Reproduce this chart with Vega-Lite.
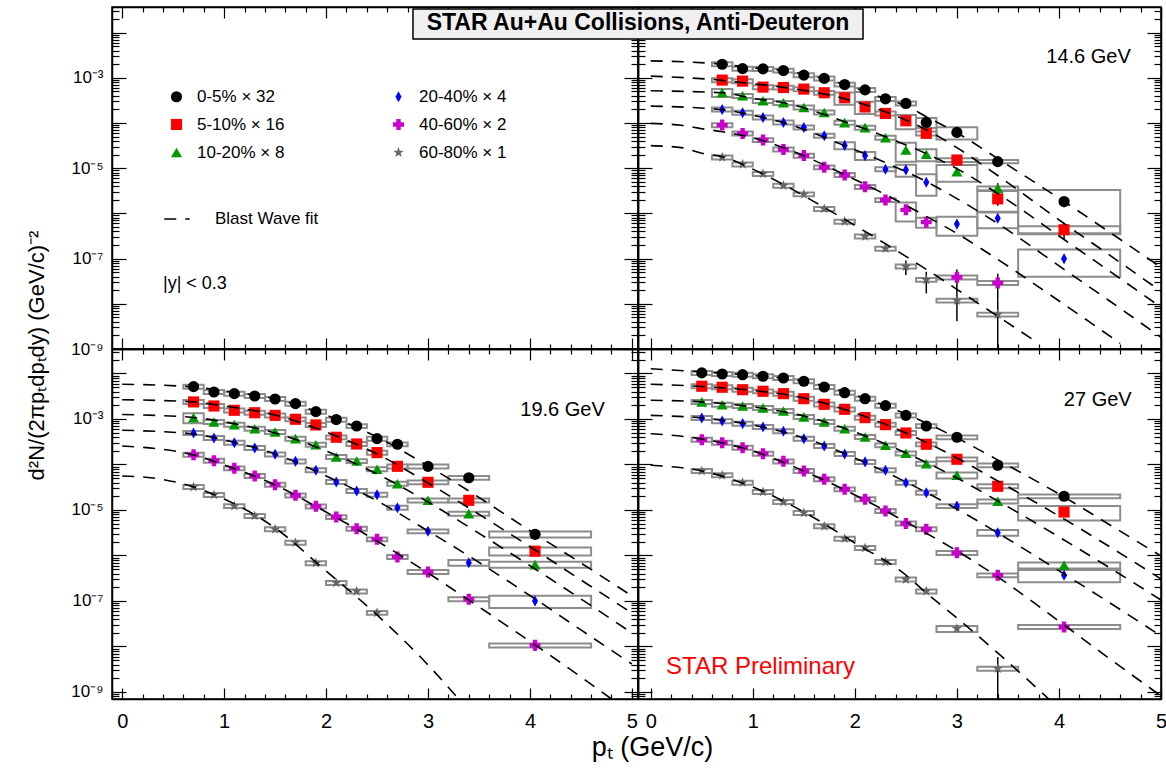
{
"$schema": "https://vega.github.io/schema/vega-lite/v6.json",
"padding": {"left": 24, "top": 5, "right": 3, "bottom": 3},
"background": "white",
"datasets": {
"bins": [{"x":0.5,"x1":0.4,"x2":0.6},{"x":0.7,"x1":0.6,"x2":0.8},{"x":0.9,"x1":0.8,"x2":1.0},{"x":1.1,"x1":1.0,"x2":1.2},{"x":1.3,"x1":1.2,"x2":1.4},{"x":1.5,"x1":1.4,"x2":1.6},{"x":1.7,"x1":1.6,"x2":1.8},{"x":1.9,"x1":1.8,"x2":2.0},{"x":2.1,"x1":2.0,"x2":2.2},{"x":2.3,"x1":2.2,"x2":2.4},{"x":2.5,"x1":2.4,"x2":2.6},{"x":2.7,"x1":2.6,"x2":2.8},{"x":3.0,"x1":2.8,"x2":3.2},{"x":3.4,"x1":3.2,"x2":3.6},{"x":4.05,"x1":3.6,"x2":4.6}],
"pts": [
{"E":"14.6","c":"0-5%","x":0.7,"y":2.0e-3},{"E":"14.6","c":"0-5%","x":0.9,"y":1.6e-3},{"E":"14.6","c":"0-5%","x":1.1,"y":1.58e-3},{"E":"14.6","c":"0-5%","x":1.3,"y":1.45e-3},{"E":"14.6","c":"0-5%","x":1.5,"y":1.15e-3},{"E":"14.6","c":"0-5%","x":1.7,"y":9.7e-4},{"E":"14.6","c":"0-5%","x":1.9,"y":7.1e-4},{"E":"14.6","c":"0-5%","x":2.1,"y":5.4e-4},{"E":"14.6","c":"0-5%","x":2.3,"y":3.43e-4},{"E":"14.6","c":"0-5%","x":2.5,"y":2.71e-4},{"E":"14.6","c":"0-5%","x":2.7,"y":1.03e-4,"s":0.25},{"E":"14.6","c":"0-5%","x":3.0,"y":6.2e-5,"s":0.3},{"E":"14.6","c":"0-5%","x":3.4,"y":1.4e-5,"s":0.08},{"E":"14.6","c":"0-5%","x":4.05,"y":1.83e-6,"s":0.8,"e":0.25},
{"E":"14.6","c":"5-10%","x":0.7,"y":8.9e-4},{"E":"14.6","c":"5-10%","x":0.9,"y":8.45e-4},{"E":"14.6","c":"5-10%","x":1.1,"y":6.23e-4},{"E":"14.6","c":"5-10%","x":1.3,"y":6.1e-4},{"E":"14.6","c":"5-10%","x":1.5,"y":5.63e-4},{"E":"14.6","c":"5-10%","x":1.7,"y":4.67e-4},{"E":"14.6","c":"5-10%","x":1.9,"y":3.62e-4,"s":0.3},{"E":"14.6","c":"5-10%","x":2.1,"y":2.26e-4,"s":0.3},{"E":"14.6","c":"5-10%","x":2.3,"y":1.63e-4},{"E":"14.6","c":"5-10%","x":2.5,"y":1.12e-4,"s":0.35},{"E":"14.6","c":"5-10%","x":2.7,"y":5.9e-5},{"E":"14.6","c":"5-10%","x":3.0,"y":1.52e-5},{"E":"14.6","c":"5-10%","x":3.4,"y":2.1e-6,"s":0.5,"e":0.3},{"E":"14.6","c":"5-10%","x":4.05,"y":4.35e-7,"s":0.2,"e":0.4},
{"E":"14.6","c":"10-20%","x":0.7,"y":4.73e-4,"s":0.2},{"E":"14.6","c":"10-20%","x":0.9,"y":4.0e-4},{"E":"14.6","c":"10-20%","x":1.1,"y":3.1e-4},{"E":"14.6","c":"10-20%","x":1.3,"y":2.8e-4},{"E":"14.6","c":"10-20%","x":1.5,"y":2.21e-4},{"E":"14.6","c":"10-20%","x":1.7,"y":1.71e-4},{"E":"14.6","c":"10-20%","x":1.9,"y":1.02e-4},{"E":"14.6","c":"10-20%","x":2.1,"y":7.9e-5},{"E":"14.6","c":"10-20%","x":2.3,"y":4.73e-5},{"E":"14.6","c":"10-20%","x":2.5,"y":2.53e-5,"s":0.45},{"E":"14.6","c":"10-20%","x":2.7,"y":2.03e-5,"s":0.3},{"E":"14.6","c":"10-20%","x":3.0,"y":8.4e-6,"s":0.4},{"E":"14.6","c":"10-20%","x":3.4,"y":3.6e-6,"e":0.3},
{"E":"14.6","c":"20-40%","x":0.7,"y":2.0e-4},{"E":"14.6","c":"20-40%","x":0.9,"y":1.69e-4},{"E":"14.6","c":"20-40%","x":1.1,"y":1.33e-4},{"E":"14.6","c":"20-40%","x":1.3,"y":1.03e-4},{"E":"14.6","c":"20-40%","x":1.5,"y":8.0e-5},{"E":"14.6","c":"20-40%","x":1.7,"y":5.25e-5},{"E":"14.6","c":"20-40%","x":1.9,"y":3.2e-5,"s":0.18},{"E":"14.6","c":"20-40%","x":2.1,"y":1.9e-5,"s":0.2},{"E":"14.6","c":"20-40%","x":2.3,"y":9.5e-6},{"E":"14.6","c":"20-40%","x":2.5,"y":9.2e-6,"s":0.3},{"E":"14.6","c":"20-40%","x":2.7,"y":4.9e-6,"s":0.5},{"E":"14.6","c":"20-40%","x":3.0,"y":5.8e-7,"s":0.45},{"E":"14.6","c":"20-40%","x":3.4,"y":7.8e-7,"s":0.4},{"E":"14.6","c":"20-40%","x":4.05,"y":9.95e-8,"s":0.6,"e":0.2},
{"E":"14.6","c":"40-60%","x":0.7,"y":9.0e-5},{"E":"14.6","c":"40-60%","x":0.9,"y":5.9e-5},{"E":"14.6","c":"40-60%","x":1.1,"y":4.2e-5},{"E":"14.6","c":"40-60%","x":1.3,"y":2.6e-5},{"E":"14.6","c":"40-60%","x":1.5,"y":1.9e-5},{"E":"14.6","c":"40-60%","x":1.7,"y":1.05e-5},{"E":"14.6","c":"40-60%","x":1.9,"y":7.1e-6},{"E":"14.6","c":"40-60%","x":2.1,"y":3.87e-6},{"E":"14.6","c":"40-60%","x":2.3,"y":1.98e-6},{"E":"14.6","c":"40-60%","x":2.5,"y":1.2e-6,"s":0.45},{"E":"14.6","c":"40-60%","x":2.7,"y":6.4e-7,"s":0.25},{"E":"14.6","c":"40-60%","x":3.0,"y":3.85e-8,"e":0.5},{"E":"14.6","c":"40-60%","x":3.4,"y":2.9e-8,"e":0.6},
{"E":"14.6","c":"60-80%","x":0.7,"y":1.74e-5},{"E":"14.6","c":"60-80%","x":0.9,"y":1.22e-5},{"E":"14.6","c":"60-80%","x":1.1,"y":7.5e-6},{"E":"14.6","c":"60-80%","x":1.3,"y":4.13e-6},{"E":"14.6","c":"60-80%","x":1.5,"y":2.65e-6},{"E":"14.6","c":"60-80%","x":1.7,"y":1.26e-6},{"E":"14.6","c":"60-80%","x":1.9,"y":6.6e-7},{"E":"14.6","c":"60-80%","x":2.1,"y":3.09e-7},{"E":"14.6","c":"60-80%","x":2.3,"y":1.66e-7},{"E":"14.6","c":"60-80%","x":2.5,"y":6.7e-8,"e":0.35},{"E":"14.6","c":"60-80%","x":2.7,"y":3.4e-8,"e":0.5},{"E":"14.6","c":"60-80%","x":3.0,"y":1.18e-8,"e":0.65},{"E":"14.6","c":"60-80%","x":3.4,"y":5.8e-9,"e":0.98},
{"E":"19.6","c":"0-5%","x":0.7,"y":5.13e-3},{"E":"19.6","c":"0-5%","x":0.9,"y":3.92e-3},{"E":"19.6","c":"0-5%","x":1.1,"y":3.6e-3},{"E":"19.6","c":"0-5%","x":1.3,"y":3.2e-3},{"E":"19.6","c":"0-5%","x":1.5,"y":2.75e-3},{"E":"19.6","c":"0-5%","x":1.7,"y":2.17e-3},{"E":"19.6","c":"0-5%","x":1.9,"y":1.45e-3},{"E":"19.6","c":"0-5%","x":2.1,"y":9.7e-4},{"E":"19.6","c":"0-5%","x":2.3,"y":7.0e-4},{"E":"19.6","c":"0-5%","x":2.5,"y":3.69e-4},{"E":"19.6","c":"0-5%","x":2.7,"y":2.78e-4},{"E":"19.6","c":"0-5%","x":3.0,"y":9.1e-5},{"E":"19.6","c":"0-5%","x":3.4,"y":5.1e-5},{"E":"19.6","c":"0-5%","x":4.05,"y":2.92e-6,"s":0.15},
{"E":"19.6","c":"5-10%","x":0.7,"y":2.37e-3},{"E":"19.6","c":"5-10%","x":0.9,"y":1.93e-3},{"E":"19.6","c":"5-10%","x":1.1,"y":1.55e-3},{"E":"19.6","c":"5-10%","x":1.3,"y":1.37e-3},{"E":"19.6","c":"5-10%","x":1.5,"y":1.2e-3},{"E":"19.6","c":"5-10%","x":1.7,"y":9.85e-4},{"E":"19.6","c":"5-10%","x":1.9,"y":7.4e-4},{"E":"19.6","c":"5-10%","x":2.1,"y":3.96e-4},{"E":"19.6","c":"5-10%","x":2.3,"y":2.82e-4},{"E":"19.6","c":"5-10%","x":2.5,"y":1.82e-4},{"E":"19.6","c":"5-10%","x":2.7,"y":9.1e-5},{"E":"19.6","c":"5-10%","x":3.0,"y":4.06e-5},{"E":"19.6","c":"5-10%","x":3.4,"y":1.63e-5},{"E":"19.6","c":"5-10%","x":4.05,"y":1.24e-6,"s":0.2},
{"E":"19.6","c":"10-20%","x":0.7,"y":1.07e-3,"s":0.25},{"E":"19.6","c":"10-20%","x":0.9,"y":8.6e-4},{"E":"19.6","c":"10-20%","x":1.1,"y":7.5e-4},{"E":"19.6","c":"10-20%","x":1.3,"y":6.1e-4},{"E":"19.6","c":"10-20%","x":1.5,"y":5.18e-4},{"E":"19.6","c":"10-20%","x":1.7,"y":3.69e-4},{"E":"19.6","c":"10-20%","x":1.9,"y":2.72e-4},{"E":"19.6","c":"10-20%","x":2.1,"y":1.46e-4},{"E":"19.6","c":"10-20%","x":2.3,"y":1.19e-4},{"E":"19.6","c":"10-20%","x":2.5,"y":7.85e-5},{"E":"19.6","c":"10-20%","x":2.7,"y":3.78e-5},{"E":"19.6","c":"10-20%","x":3.0,"y":1.63e-5},{"E":"19.6","c":"10-20%","x":3.4,"y":8.3e-6},{"E":"19.6","c":"10-20%","x":4.05,"y":6.3e-7,"s":0.15},
{"E":"19.6","c":"20-40%","x":0.7,"y":4.92e-4},{"E":"19.6","c":"20-40%","x":0.9,"y":3.82e-4},{"E":"19.6","c":"20-40%","x":1.1,"y":3.01e-4},{"E":"19.6","c":"20-40%","x":1.3,"y":2.31e-4},{"E":"19.6","c":"20-40%","x":1.5,"y":1.67e-4},{"E":"19.6","c":"20-40%","x":1.7,"y":1.17e-4},{"E":"19.6","c":"20-40%","x":1.9,"y":7.5e-5},{"E":"19.6","c":"20-40%","x":2.1,"y":4.12e-5},{"E":"19.6","c":"20-40%","x":2.3,"y":2.62e-5},{"E":"19.6","c":"20-40%","x":2.5,"y":2.17e-5},{"E":"19.6","c":"20-40%","x":2.7,"y":1.12e-5},{"E":"19.6","c":"20-40%","x":3.0,"y":3.4e-6},{"E":"19.6","c":"20-40%","x":3.4,"y":6.95e-7,"s":0.15},{"E":"19.6","c":"20-40%","x":4.05,"y":1.0e-7,"s":0.3,"e":0.2},
{"E":"19.6","c":"40-60%","x":0.7,"y":1.64e-4},{"E":"19.6","c":"40-60%","x":0.9,"y":1.21e-4},{"E":"19.6","c":"40-60%","x":1.1,"y":8.25e-5},{"E":"19.6","c":"40-60%","x":1.3,"y":5.58e-5},{"E":"19.6","c":"40-60%","x":1.5,"y":3.6e-5},{"E":"19.6","c":"40-60%","x":1.7,"y":2.1e-5},{"E":"19.6","c":"40-60%","x":1.9,"y":1.2e-5},{"E":"19.6","c":"40-60%","x":2.1,"y":7.0e-6},{"E":"19.6","c":"40-60%","x":2.3,"y":3.88e-6},{"E":"19.6","c":"40-60%","x":2.5,"y":2.27e-6},{"E":"19.6","c":"40-60%","x":2.7,"y":9.3e-7},{"E":"19.6","c":"40-60%","x":3.0,"y":4.34e-7},{"E":"19.6","c":"40-60%","x":3.4,"y":1.09e-7},{"E":"19.6","c":"40-60%","x":4.05,"y":1.06e-8,"e":0.25},
{"E":"19.6","c":"60-80%","x":0.7,"y":3.2e-5},{"E":"19.6","c":"60-80%","x":0.9,"y":2.14e-5},{"E":"19.6","c":"60-80%","x":1.1,"y":1.22e-5},{"E":"19.6","c":"60-80%","x":1.3,"y":7.4e-6},{"E":"19.6","c":"60-80%","x":1.5,"y":3.77e-6},{"E":"19.6","c":"60-80%","x":1.7,"y":1.91e-6},{"E":"19.6","c":"60-80%","x":1.9,"y":6.8e-7},{"E":"19.6","c":"60-80%","x":2.1,"y":2.49e-7},{"E":"19.6","c":"60-80%","x":2.3,"y":1.63e-7},{"E":"19.6","c":"60-80%","x":2.5,"y":5.5e-8},
{"E":"27","c":"0-5%","x":0.5,"y":1.03e-2},{"E":"27","c":"0-5%","x":0.7,"y":9.75e-3},{"E":"27","c":"0-5%","x":0.9,"y":9.4e-3},{"E":"27","c":"0-5%","x":1.1,"y":8.7e-3},{"E":"27","c":"0-5%","x":1.3,"y":7.96e-3},{"E":"27","c":"0-5%","x":1.5,"y":6.75e-3},{"E":"27","c":"0-5%","x":1.7,"y":5.05e-3},{"E":"27","c":"0-5%","x":1.9,"y":3.78e-3},{"E":"27","c":"0-5%","x":2.1,"y":2.79e-3},{"E":"27","c":"0-5%","x":2.3,"y":1.96e-3},{"E":"27","c":"0-5%","x":2.5,"y":1.2e-3},{"E":"27","c":"0-5%","x":2.7,"y":7.0e-4},{"E":"27","c":"0-5%","x":3.0,"y":3.96e-4},{"E":"27","c":"0-5%","x":3.4,"y":9.6e-5},{"E":"27","c":"0-5%","x":4.05,"y":2.0e-5},
{"E":"27","c":"5-10%","x":0.5,"y":5.24e-3},{"E":"27","c":"5-10%","x":0.7,"y":4.98e-3},{"E":"27","c":"5-10%","x":0.9,"y":4.4e-3},{"E":"27","c":"5-10%","x":1.1,"y":4.06e-3},{"E":"27","c":"5-10%","x":1.3,"y":3.6e-3},{"E":"27","c":"5-10%","x":1.5,"y":2.79e-3},{"E":"27","c":"5-10%","x":1.7,"y":2.1e-3},{"E":"27","c":"5-10%","x":1.9,"y":1.63e-3},{"E":"27","c":"5-10%","x":2.1,"y":1.07e-3},{"E":"27","c":"5-10%","x":2.3,"y":7.5e-4},{"E":"27","c":"5-10%","x":2.5,"y":4.92e-4},{"E":"27","c":"5-10%","x":2.7,"y":2.78e-4},{"E":"27","c":"5-10%","x":3.0,"y":1.3e-4},{"E":"27","c":"5-10%","x":3.4,"y":3.32e-5},{"E":"27","c":"5-10%","x":4.05,"y":9.0e-6,"s":0.35},
{"E":"27","c":"10-20%","x":0.5,"y":2.37e-3},{"E":"27","c":"10-20%","x":0.7,"y":2.06e-3},{"E":"27","c":"10-20%","x":0.9,"y":1.93e-3},{"E":"27","c":"10-20%","x":1.1,"y":1.75e-3},{"E":"27","c":"10-20%","x":1.3,"y":1.5e-3},{"E":"27","c":"10-20%","x":1.5,"y":1.11e-3},{"E":"27","c":"10-20%","x":1.7,"y":8.6e-4},{"E":"27","c":"10-20%","x":1.9,"y":6.1e-4},{"E":"27","c":"10-20%","x":2.1,"y":4.02e-4},{"E":"27","c":"10-20%","x":2.3,"y":2.64e-4},{"E":"27","c":"10-20%","x":2.5,"y":1.76e-4},{"E":"27","c":"10-20%","x":2.7,"y":1.04e-4},{"E":"27","c":"10-20%","x":3.0,"y":5.8e-5,"s":0.15},{"E":"27","c":"10-20%","x":3.4,"y":1.55e-5},{"E":"27","c":"10-20%","x":4.05,"y":6.1e-7,"s":0.15},
{"E":"27","c":"20-40%","x":0.5,"y":1.05e-3},{"E":"27","c":"20-40%","x":0.7,"y":9.0e-4},{"E":"27","c":"20-40%","x":0.9,"y":7.9e-4},{"E":"27","c":"20-40%","x":1.1,"y":6.67e-4},{"E":"27","c":"20-40%","x":1.3,"y":5.37e-4},{"E":"27","c":"20-40%","x":1.5,"y":3.69e-4},{"E":"27","c":"20-40%","x":1.7,"y":2.55e-4},{"E":"27","c":"20-40%","x":1.9,"y":1.7e-4},{"E":"27","c":"20-40%","x":2.1,"y":1.14e-4},{"E":"27","c":"20-40%","x":2.3,"y":7.46e-5},{"E":"27","c":"20-40%","x":2.5,"y":3.98e-5},{"E":"27","c":"20-40%","x":2.7,"y":2.4e-5},{"E":"27","c":"20-40%","x":3.0,"y":1.22e-5},{"E":"27","c":"20-40%","x":3.4,"y":3.17e-6,"s":0.15},{"E":"27","c":"20-40%","x":4.05,"y":3.67e-7,"s":0.3},
{"E":"27","c":"40-60%","x":0.5,"y":3.51e-4},{"E":"27","c":"40-60%","x":0.7,"y":3.01e-4},{"E":"27","c":"40-60%","x":0.9,"y":2.34e-4},{"E":"27","c":"40-60%","x":1.1,"y":1.73e-4},{"E":"27","c":"40-60%","x":1.3,"y":1.17e-4},{"E":"27","c":"40-60%","x":1.5,"y":7.2e-5},{"E":"27","c":"40-60%","x":1.7,"y":4.73e-5},{"E":"27","c":"40-60%","x":1.9,"y":2.85e-5},{"E":"27","c":"40-60%","x":2.1,"y":1.72e-5},{"E":"27","c":"40-60%","x":2.3,"y":9.5e-6},{"E":"27","c":"40-60%","x":2.5,"y":5.05e-6},{"E":"27","c":"40-60%","x":2.7,"y":3.77e-6},{"E":"27","c":"40-60%","x":3.0,"y":1.14e-6},{"E":"27","c":"40-60%","x":3.4,"y":3.67e-7},{"E":"27","c":"40-60%","x":4.05,"y":2.68e-8},
{"E":"27","c":"60-80%","x":0.5,"y":7.2e-5},{"E":"27","c":"60-80%","x":0.7,"y":5.8e-5},{"E":"27","c":"60-80%","x":0.9,"y":3.98e-5},{"E":"27","c":"60-80%","x":1.1,"y":2.49e-5},{"E":"27","c":"60-80%","x":1.3,"y":1.5e-5},{"E":"27","c":"60-80%","x":1.5,"y":8.6e-6},{"E":"27","c":"60-80%","x":1.7,"y":4.39e-6},{"E":"27","c":"60-80%","x":1.9,"y":2.34e-6},{"E":"27","c":"60-80%","x":2.1,"y":1.46e-6},{"E":"27","c":"60-80%","x":2.3,"y":7.2e-7},{"E":"27","c":"60-80%","x":2.5,"y":2.97e-7},{"E":"27","c":"60-80%","x":2.7,"y":1.63e-7},{"E":"27","c":"60-80%","x":3.0,"y":2.46e-8,"s":0.15},{"E":"27","c":"60-80%","x":3.4,"y":3.25e-9,"e":0.8}
],
"fits": [
{"E":"14.6","c":"0-5%","x":0,"y":2.37e-3},{"E":"14.6","c":"0-5%","x":0.7,"y":2.0e-3},{"E":"14.6","c":"0-5%","x":1.0,"y":1.66e-3},{"E":"14.6","c":"0-5%","x":1.3,"y":1.45e-3},{"E":"14.6","c":"0-5%","x":1.6,"y":1.08e-3},{"E":"14.6","c":"0-5%","x":1.9,"y":7.1e-4},{"E":"14.6","c":"0-5%","x":2.3,"y":3.44e-4},{"E":"14.6","c":"0-5%","x":2.5,"y":2.41e-4},{"E":"14.6","c":"0-5%","x":2.7,"y":1.38e-4},{"E":"14.6","c":"0-5%","x":3.0,"y":6.1e-5},{"E":"14.6","c":"0-5%","x":3.4,"y":1.63e-5},{"E":"14.6","c":"0-5%","x":4.05,"y":1.83e-6},{"E":"14.6","c":"0-5%","x":4.5,"y":3.79e-7},{"E":"14.6","c":"0-5%","x":5.0,"y":6.4e-8},
{"E":"14.6","c":"5-10%","x":0,"y":1.09e-3},{"E":"14.6","c":"5-10%","x":0.7,"y":8.8e-4},{"E":"14.6","c":"5-10%","x":1.0,"y":7.38e-4},{"E":"14.6","c":"5-10%","x":1.3,"y":6.17e-4},{"E":"14.6","c":"5-10%","x":1.9,"y":3.44e-4},{"E":"14.6","c":"5-10%","x":2.3,"y":1.77e-4},{"E":"14.6","c":"5-10%","x":2.7,"y":7.1e-5},{"E":"14.6","c":"5-10%","x":3.0,"y":2.85e-5},{"E":"14.6","c":"5-10%","x":3.4,"y":6.9e-6},{"E":"14.6","c":"5-10%","x":4.05,"y":5.98e-7},{"E":"14.6","c":"5-10%","x":4.5,"y":1.18e-7},{"E":"14.6","c":"5-10%","x":5.0,"y":1.89e-8},
{"E":"14.6","c":"10-20%","x":0,"y":5.16e-4},{"E":"14.6","c":"10-20%","x":0.7,"y":4.67e-4},{"E":"14.6","c":"10-20%","x":1.0,"y":3.52e-4},{"E":"14.6","c":"10-20%","x":1.3,"y":2.81e-4},{"E":"14.6","c":"10-20%","x":1.9,"y":1.07e-4},{"E":"14.6","c":"10-20%","x":2.3,"y":4.99e-5},{"E":"14.6","c":"10-20%","x":2.7,"y":2.1e-5},{"E":"14.6","c":"10-20%","x":3.0,"y":9.8e-6},{"E":"14.6","c":"10-20%","x":3.4,"y":2.75e-6},{"E":"14.6","c":"10-20%","x":4.05,"y":2.65e-7},{"E":"14.6","c":"10-20%","x":4.5,"y":5.2e-8},{"E":"14.6","c":"10-20%","x":5.0,"y":8.4e-9},
{"E":"14.6","c":"20-40%","x":0,"y":2.37e-4},{"E":"14.6","c":"20-40%","x":0.7,"y":1.97e-4},{"E":"14.6","c":"20-40%","x":1.0,"y":1.49e-4},{"E":"14.6","c":"20-40%","x":1.3,"y":1.02e-4},{"E":"14.6","c":"20-40%","x":1.9,"y":3.16e-5},{"E":"14.6","c":"20-40%","x":2.3,"y":1.33e-5},{"E":"14.6","c":"20-40%","x":2.7,"y":5.06e-6},{"E":"14.6","c":"20-40%","x":3.0,"y":2.13e-6},{"E":"14.6","c":"20-40%","x":3.4,"y":5.98e-7},{"E":"14.6","c":"20-40%","x":4.05,"y":5.78e-8},{"E":"14.6","c":"20-40%","x":4.5,"y":1.14e-8},{"E":"14.6","c":"20-40%","x":5.0,"y":1.82e-9},
{"E":"14.6","c":"40-60%","x":0,"y":9.8e-5},{"E":"14.6","c":"40-60%","x":0.3,"y":8.93e-5},{"E":"14.6","c":"40-60%","x":0.5,"y":7.48e-5},{"E":"14.6","c":"40-60%","x":0.7,"y":6.43e-5},{"E":"14.6","c":"40-60%","x":1.0,"y":4.73e-5},{"E":"14.6","c":"40-60%","x":1.3,"y":2.85e-5},{"E":"14.6","c":"40-60%","x":1.9,"y":7.2e-6},{"E":"14.6","c":"40-60%","x":2.3,"y":2.61e-6},{"E":"14.6","c":"40-60%","x":2.7,"y":8.6e-7},{"E":"14.6","c":"40-60%","x":3.0,"y":3.6e-7},{"E":"14.6","c":"40-60%","x":3.4,"y":9.6e-8},{"E":"14.6","c":"40-60%","x":4.05,"y":9.7e-9},{"E":"14.6","c":"40-60%","x":4.6,"y":1.34e-9},
{"E":"14.6","c":"60-80%","x":0,"y":3.16e-5},{"E":"14.6","c":"60-80%","x":0.3,"y":2.85e-5},{"E":"14.6","c":"60-80%","x":0.5,"y":2.15e-5},{"E":"14.6","c":"60-80%","x":0.7,"y":1.8e-5},{"E":"14.6","c":"60-80%","x":1.0,"y":9.55e-6},{"E":"14.6","c":"60-80%","x":1.3,"y":4.35e-6},{"E":"14.6","c":"60-80%","x":1.7,"y":1.35e-6},{"E":"14.6","c":"60-80%","x":2.1,"y":3.98e-7},{"E":"14.6","c":"60-80%","x":2.5,"y":1.12e-7},{"E":"14.6","c":"60-80%","x":2.7,"y":5.78e-8},{"E":"14.6","c":"60-80%","x":3.0,"y":2.09e-8},{"E":"14.6","c":"60-80%","x":3.4,"y":5.3e-9},{"E":"14.6","c":"60-80%","x":3.8,"y":1.34e-9},
{"E":"19.6","c":"0-5%","x":0,"y":5.8e-3},{"E":"19.6","c":"0-5%","x":0.7,"y":5.05e-3},{"E":"19.6","c":"0-5%","x":1.0,"y":4.12e-3},{"E":"19.6","c":"0-5%","x":1.5,"y":2.75e-3},{"E":"19.6","c":"0-5%","x":2.0,"y":1.22e-3},{"E":"19.6","c":"0-5%","x":2.5,"y":4.02e-4},{"E":"19.6","c":"0-5%","x":3.0,"y":9.27e-5},{"E":"19.6","c":"0-5%","x":3.4,"y":2.62e-5},{"E":"19.6","c":"0-5%","x":4.05,"y":2.97e-6},{"E":"19.6","c":"0-5%","x":4.5,"y":6.84e-7},{"E":"19.6","c":"0-5%","x":5.0,"y":1.29e-7},
{"E":"19.6","c":"5-10%","x":0,"y":2.65e-3},{"E":"19.6","c":"5-10%","x":0.7,"y":2.37e-3},{"E":"19.6","c":"5-10%","x":1.0,"y":1.93e-3},{"E":"19.6","c":"5-10%","x":1.5,"y":1.22e-3},{"E":"19.6","c":"5-10%","x":2.0,"y":5.18e-4},{"E":"19.6","c":"5-10%","x":2.5,"y":1.7e-4},{"E":"19.6","c":"5-10%","x":3.0,"y":3.92e-5},{"E":"19.6","c":"5-10%","x":3.4,"y":1.11e-5},{"E":"19.6","c":"5-10%","x":4.05,"y":1.32e-6},{"E":"19.6","c":"5-10%","x":4.5,"y":2.9e-7},{"E":"19.6","c":"5-10%","x":5.0,"y":5.45e-8},
{"E":"19.6","c":"10-20%","x":0,"y":1.25e-3},{"E":"19.6","c":"10-20%","x":0.7,"y":1.08e-3},{"E":"19.6","c":"10-20%","x":1.0,"y":8.6e-4},{"E":"19.6","c":"10-20%","x":1.5,"y":4.92e-4},{"E":"19.6","c":"10-20%","x":2.0,"y":1.98e-4},{"E":"19.6","c":"10-20%","x":2.5,"y":6.18e-5},{"E":"19.6","c":"10-20%","x":3.0,"y":1.5e-5},{"E":"19.6","c":"10-20%","x":3.4,"y":4.23e-6},{"E":"19.6","c":"10-20%","x":4.05,"y":5.05e-7},{"E":"19.6","c":"10-20%","x":4.5,"y":1.11e-7},{"E":"19.6","c":"10-20%","x":5.0,"y":1.98e-8},
{"E":"19.6","c":"20-40%","x":0,"y":5.65e-4},{"E":"19.6","c":"20-40%","x":0.7,"y":4.68e-4},{"E":"19.6","c":"20-40%","x":1.0,"y":3.45e-4},{"E":"19.6","c":"20-40%","x":1.5,"y":1.7e-4},{"E":"19.6","c":"20-40%","x":2.0,"y":5.58e-5},{"E":"19.6","c":"20-40%","x":2.5,"y":1.58e-5},{"E":"19.6","c":"20-40%","x":3.0,"y":3.45e-6},{"E":"19.6","c":"20-40%","x":3.4,"y":9.75e-7},{"E":"19.6","c":"20-40%","x":4.05,"y":1.11e-7},{"E":"19.6","c":"20-40%","x":4.5,"y":2.31e-8},{"E":"19.6","c":"20-40%","x":5.0,"y":4.12e-9},
{"E":"19.6","c":"40-60%","x":0,"y":2.55e-4},{"E":"19.6","c":"40-60%","x":0.7,"y":1.62e-4},{"E":"19.6","c":"40-60%","x":1.0,"y":9.75e-5},{"E":"19.6","c":"40-60%","x":1.5,"y":3.54e-5},{"E":"19.6","c":"40-60%","x":2.0,"y":9.0e-6},{"E":"19.6","c":"40-60%","x":2.5,"y":2.08e-6},{"E":"19.6","c":"40-60%","x":3.0,"y":4.12e-7},{"E":"19.6","c":"40-60%","x":3.4,"y":1.05e-7},{"E":"19.6","c":"40-60%","x":4.05,"y":1.08e-8},{"E":"19.6","c":"40-60%","x":4.5,"y":2.14e-9},{"E":"19.6","c":"40-60%","x":4.8,"y":7.0e-10},
{"E":"19.6","c":"60-80%","x":0,"y":5.58e-5},{"E":"19.6","c":"60-80%","x":0.3,"y":5.05e-5},{"E":"19.6","c":"60-80%","x":0.7,"y":3.2e-5},{"E":"19.6","c":"60-80%","x":1.0,"y":1.75e-5},{"E":"19.6","c":"60-80%","x":1.5,"y":4.02e-6},{"E":"19.6","c":"60-80%","x":2.0,"y":4.56e-7},{"E":"19.6","c":"60-80%","x":2.5,"y":4.92e-8},{"E":"19.6","c":"60-80%","x":3.0,"y":3.92e-9},{"E":"19.6","c":"60-80%","x":3.3,"y":7.0e-10},
{"E":"27","c":"0-5%","x":0,"y":1.27e-2},{"E":"27","c":"0-5%","x":0.5,"y":1.08e-2},{"E":"27","c":"0-5%","x":1.0,"y":9.04e-3},{"E":"27","c":"0-5%","x":1.5,"y":6.75e-3},{"E":"27","c":"0-5%","x":2.0,"y":3.37e-3},{"E":"27","c":"0-5%","x":2.5,"y":1.29e-3},{"E":"27","c":"0-5%","x":3.0,"y":3.82e-4},{"E":"27","c":"0-5%","x":3.4,"y":1.26e-4},{"E":"27","c":"0-5%","x":4.05,"y":1.93e-5},{"E":"27","c":"0-5%","x":4.5,"y":4.68e-6},{"E":"27","c":"0-5%","x":5.0,"y":9.75e-7},
{"E":"27","c":"5-10%","x":0,"y":5.8e-3},{"E":"27","c":"5-10%","x":0.5,"y":5.18e-3},{"E":"27","c":"5-10%","x":1.0,"y":4.23e-3},{"E":"27","c":"5-10%","x":1.5,"y":2.9e-3},{"E":"27","c":"5-10%","x":2.0,"y":1.36e-3},{"E":"27","c":"5-10%","x":2.5,"y":4.92e-4},{"E":"27","c":"5-10%","x":3.0,"y":1.39e-4},{"E":"27","c":"5-10%","x":3.4,"y":4.34e-5},{"E":"27","c":"5-10%","x":4.05,"y":6.34e-6},{"E":"27","c":"5-10%","x":4.5,"y":1.54e-6},{"E":"27","c":"5-10%","x":5.0,"y":3.05e-7},
{"E":"27","c":"10-20%","x":0,"y":2.58e-3},{"E":"27","c":"10-20%","x":0.5,"y":2.37e-3},{"E":"27","c":"10-20%","x":1.0,"y":1.84e-3},{"E":"27","c":"10-20%","x":1.5,"y":1.16e-3},{"E":"27","c":"10-20%","x":2.0,"y":5.18e-4},{"E":"27","c":"10-20%","x":2.5,"y":1.79e-4},{"E":"27","c":"10-20%","x":3.0,"y":5.05e-5},{"E":"27","c":"10-20%","x":3.4,"y":1.58e-5},{"E":"27","c":"10-20%","x":4.05,"y":2.19e-6},{"E":"27","c":"10-20%","x":4.5,"y":5.31e-7},{"E":"27","c":"10-20%","x":5.0,"y":1.05e-7},
{"E":"27","c":"20-40%","x":0,"y":1.2e-3},{"E":"27","c":"20-40%","x":0.5,"y":1.05e-3},{"E":"27","c":"20-40%","x":1.0,"y":7.38e-4},{"E":"27","c":"20-40%","x":1.5,"y":3.82e-4},{"E":"27","c":"20-40%","x":2.0,"y":1.39e-4},{"E":"27","c":"20-40%","x":2.5,"y":4.12e-5},{"E":"27","c":"20-40%","x":3.0,"y":1.05e-5},{"E":"27","c":"20-40%","x":3.4,"y":3.13e-6},{"E":"27","c":"20-40%","x":4.05,"y":3.92e-7},{"E":"27","c":"20-40%","x":4.5,"y":9.04e-8},{"E":"27","c":"20-40%","x":5.0,"y":1.7e-8},
{"E":"27","c":"40-60%","x":0,"y":4.75e-4},{"E":"27","c":"40-60%","x":0.5,"y":3.63e-4},{"E":"27","c":"40-60%","x":1.0,"y":1.98e-4},{"E":"27","c":"40-60%","x":1.5,"y":7.2e-5},{"E":"27","c":"40-60%","x":2.0,"y":2.14e-5},{"E":"27","c":"40-60%","x":2.5,"y":5.45e-6},{"E":"27","c":"40-60%","x":3.0,"y":1.26e-6},{"E":"27","c":"40-60%","x":3.4,"y":3.37e-7},{"E":"27","c":"40-60%","x":4.05,"y":2.97e-8},{"E":"27","c":"40-60%","x":4.5,"y":5.31e-9},{"E":"27","c":"40-60%","x":5.0,"y":8.2e-10},
{"E":"27","c":"60-80%","x":0,"y":9.6e-5},{"E":"27","c":"60-80%","x":0.5,"y":7.2e-5},{"E":"27","c":"60-80%","x":1.0,"y":3.2e-5},{"E":"27","c":"60-80%","x":1.5,"y":9.04e-6},{"E":"27","c":"60-80%","x":2.0,"y":1.88e-6},{"E":"27","c":"60-80%","x":2.5,"y":3.72e-7},{"E":"27","c":"60-80%","x":2.7,"y":1.5e-7},{"E":"27","c":"60-80%","x":3.0,"y":4.23e-8},{"E":"27","c":"60-80%","x":3.4,"y":7.2e-9},{"E":"27","c":"60-80%","x":3.9,"y":7.0e-10}
]
},
"columns": 2,
"spacing": 0,
"bounds": "flush",
"resolve": {"scale": {"x": "independent", "y": "independent", "color": "shared", "shape": "shared", "size": "shared", "strokeDash": "shared"}, "axis": {"x": "independent", "y": "independent"}},
"concat": [
{
 "width": 526, "height": 342,
 "resolve": {"axis": {"x": "independent", "y": "independent"}},
 "layer": [
  {"data": {"name": "pts"}, "transform": [{"filter": "datum.E == 'none'"}], "mark": {"type": "point", "opacity": 0},
   "encoding": {
    "x": {"field": "x", "type": "quantitative", "scale": {"domain": [-0.1, 5.06], "nice": false, "zero": false}, "axis": {"orient": "top", "values": [0,1,2,3,4,5], "labels": false, "tickSize": -11, "title": null}},
    "y": {"field": "y", "type": "quantitative", "scale": {"type": "log", "domain": [1.0e-9, 3.69e-2], "nice": false}, "axis": {"orient": "right", "values": [1e-9,1e-8,1e-7,1e-6,1e-5,1e-4,1e-3,1e-2], "labels": false, "tickSize": -14, "title": null}}
   }},
  {"data": {"name": "pts"}, "transform": [{"filter": "datum.E == 'none'"}], "mark": {"type": "point", "opacity": 0},
   "encoding": {
    "x": {"field": "x", "type": "quantitative", "scale": {"domain": [-0.1, 5.06], "nice": false, "zero": false}, "axis": {"orient": "top", "values": [0.2,0.4,0.6,0.8,1.2,1.4,1.6,1.8,2.2,2.4,2.6,2.8,3.2,3.4,3.6,3.8,4.2,4.4,4.6,4.8], "labels": false, "domain": false, "tickSize": -5, "title": null}},
    "y": {"field": "y", "type": "quantitative", "scale": {"type": "log", "domain": [1.0e-9, 3.69e-2], "nice": false}, "axis": {"orient": "right", "values": [2e-9,3e-9,4e-9,5e-9,6e-9,7e-9,8e-9,9e-9,2e-8,3e-8,4e-8,5e-8,6e-8,7e-8,8e-8,9e-8,2e-7,3e-7,4e-7,5e-7,6e-7,7e-7,8e-7,9e-7,2e-6,3e-6,4e-6,5e-6,6e-6,7e-6,8e-6,9e-6,2e-5,3e-5,4e-5,5e-5,6e-5,7e-5,8e-5,9e-5,2e-4,3e-4,4e-4,5e-4,6e-4,7e-4,8e-4,9e-4,2e-3,3e-3,4e-3,5e-3,6e-3,7e-3,8e-3,9e-3,2e-2,3e-2], "labels": false, "domain": false, "tickSize": -7, "title": null}}
   }},
  {"data": {"name": "pts"}, "transform": [{"filter": "datum.E == 'none'"}], "mark": {"type": "point", "opacity": 0},
   "encoding": {
    "x": {"field": "x", "type": "quantitative", "scale": {"domain": [-0.1, 5.06], "nice": false, "zero": false}, "axis": {"orient": "bottom", "values": [0.2,0.4,0.6,0.8,1.2,1.4,1.6,1.8,2.2,2.4,2.6,2.8,3.2,3.4,3.6,3.8,4.2,4.4,4.6,4.8], "labels": false, "domain": false, "tickSize": -5, "title": null}},
    "y": {"field": "y", "type": "quantitative", "scale": {"type": "log", "domain": [1.0e-9, 3.69e-2], "nice": false}, "axis": {"orient": "left", "values": [2e-9,3e-9,4e-9,5e-9,6e-9,7e-9,8e-9,9e-9,2e-8,3e-8,4e-8,5e-8,6e-8,7e-8,8e-8,9e-8,2e-7,3e-7,4e-7,5e-7,6e-7,7e-7,8e-7,9e-7,2e-6,3e-6,4e-6,5e-6,6e-6,7e-6,8e-6,9e-6,2e-5,3e-5,4e-5,5e-5,6e-5,7e-5,8e-5,9e-5,2e-4,3e-4,4e-4,5e-4,6e-4,7e-4,8e-4,9e-4,2e-3,3e-3,4e-3,5e-3,6e-3,7e-3,8e-3,9e-3,2e-2,3e-2], "labels": false, "domain": false, "tickSize": -7, "title": null}}
   }},
  {"data": {"name": "pts"}, "transform": [{"filter": "datum.E == 'none'"}], "mark": {"type": "point", "opacity": 0},
   "encoding": {
    "x": {"field": "x", "type": "quantitative", "scale": {"domain": [-0.1, 5.06], "nice": false, "zero": false}, "axis": {"orient": "bottom", "values": [0,1,2,3,4,5], "labels": false, "tickSize": -11, "title": null}},
    "y": {"field": "y", "type": "quantitative", "scale": {"type": "log", "domain": [1.0e-9, 3.69e-2], "nice": false}, "axis": {"orient": "left", "values": [1e-9,1e-8,1e-7,1e-6,1e-5,1e-4,1e-3,1e-2], "labelExpr": "abs(log(datum.value)/LN10 + 3) < 0.01 ? '10⁻³' : abs(log(datum.value)/LN10 + 5) < 0.01 ? '10⁻⁵' : abs(log(datum.value)/LN10 + 7) < 0.01 ? '10⁻⁷' : abs(log(datum.value)/LN10 + 9) < 0.01 ? '10⁻⁹' : ''", "labelFontSize": 17, "labelPadding": 23, "tickSize": -14, "title": "d²N/(2πpₜdpₜdy) (GeV/c)⁻²", "titleFontSize": 22, "titleX": -76, "titleY": 348, "titleAngle": -90, "titleAlign": "center", "titleBaseline": "middle"}}
   }},
  {"data": {"values": [{"t": "|y| < 0.3"}]}, "mark": {"type": "text", "align": "left", "baseline": "middle", "fontSize": 18},
   "encoding": {"x": {"datum": 0.4, "type": "quantitative", "axis": null}, "y": {"datum": 2.7e-8, "type": "quantitative", "axis": null}, "text": {"field": "t"}}}
 ]
},
{
 "width": 523, "height": 342,
 "resolve": {"axis": {"x": "independent", "y": "independent"}},
 "layer": [
  {"data": {"name": "pts"}, "transform": [{"filter": "datum.E == '14.6'"}, {"lookup": "x", "from": {"data": {"name": "bins"}, "key": "x", "fields": ["x1", "x2"]}}, {"calculate": "datum.y*(1-(datum.s||0.1))", "as": "lo"}, {"calculate": "datum.y*(1+(datum.s||0.1))", "as": "hi"}],
   "mark": {"type": "rect", "filled": false, "color": "#8c8c8c", "strokeWidth": 2},
   "encoding": {
    "x": {"field": "x1", "type": "quantitative", "scale": {"domain": [-0.125, 5.0], "nice": false, "zero": false}, "axis": {"orient": "top", "values": [0,1,2,3,4,5], "labels": false, "tickSize": -11, "title": null}},
    "x2": {"field": "x2"},
    "y": {"field": "lo", "type": "quantitative", "scale": {"type": "log", "domain": [1.0e-9, 3.69e-2], "nice": false}, "axis": {"orient": "right", "values": [1e-9,1e-8,1e-7,1e-6,1e-5,1e-4,1e-3,1e-2], "labels": false, "tickSize": -14, "title": null}},
    "y2": {"field": "hi"}
   }},
  {"data": {"name": "pts"}, "transform": [{"filter": "datum.E == '14.6' && datum.e > 0"}, {"calculate": "max(datum.y*(1-datum.e), 1e-11)", "as": "elo"}, {"calculate": "datum.y*(1+datum.e)", "as": "ehi"}],
   "mark": {"type": "rule", "color": "black", "strokeWidth": 1.5, "clip": true},
   "encoding": {
    "x": {"field": "x", "type": "quantitative", "axis": {"orient": "top", "values": [0.2,0.4,0.6,0.8,1.2,1.4,1.6,1.8,2.2,2.4,2.6,2.8,3.2,3.4,3.6,3.8,4.2,4.4,4.6,4.8], "labels": false, "domain": false, "tickSize": -5, "title": null}},
    "y": {"field": "elo", "type": "quantitative", "axis": {"orient": "right", "values": [2e-9,3e-9,4e-9,5e-9,6e-9,7e-9,8e-9,9e-9,2e-8,3e-8,4e-8,5e-8,6e-8,7e-8,8e-8,9e-8,2e-7,3e-7,4e-7,5e-7,6e-7,7e-7,8e-7,9e-7,2e-6,3e-6,4e-6,5e-6,6e-6,7e-6,8e-6,9e-6,2e-5,3e-5,4e-5,5e-5,6e-5,7e-5,8e-5,9e-5,2e-4,3e-4,4e-4,5e-4,6e-4,7e-4,8e-4,9e-4,2e-3,3e-3,4e-3,5e-3,6e-3,7e-3,8e-3,9e-3,2e-2,3e-2], "labels": false, "domain": false, "tickSize": -7, "title": null}},
    "y2": {"field": "ehi"}}},
  {"data": {"name": "pts"}, "transform": [{"filter": "datum.E == '14.6'"}],
   "mark": {"type": "point", "filled": true, "opacity": 1},
   "encoding": {
    "x": {"field": "x", "type": "quantitative", "axis": {"orient": "bottom", "values": [0.2,0.4,0.6,0.8,1.2,1.4,1.6,1.8,2.2,2.4,2.6,2.8,3.2,3.4,3.6,3.8,4.2,4.4,4.6,4.8], "labels": false, "domain": false, "tickSize": -5, "title": null}},
    "y": {"field": "y", "type": "quantitative", "axis": {"orient": "left", "values": [2e-9,3e-9,4e-9,5e-9,6e-9,7e-9,8e-9,9e-9,2e-8,3e-8,4e-8,5e-8,6e-8,7e-8,8e-8,9e-8,2e-7,3e-7,4e-7,5e-7,6e-7,7e-7,8e-7,9e-7,2e-6,3e-6,4e-6,5e-6,6e-6,7e-6,8e-6,9e-6,2e-5,3e-5,4e-5,5e-5,6e-5,7e-5,8e-5,9e-5,2e-4,3e-4,4e-4,5e-4,6e-4,7e-4,8e-4,9e-4,2e-3,3e-3,4e-3,5e-3,6e-3,7e-3,8e-3,9e-3,2e-2,3e-2], "labels": false, "domain": false, "tickSize": -7, "title": null}},
    "size": {"field": "c", "type": "ordinal", "scale": {"domain": ["0-5%","5-10%","10-20%","20-40%","40-60%","60-80%"], "range": [125, 120, 170, 400, 170, 300]}, "legend": null},
    "color": {"field": "c", "type": "nominal", "scale": {"domain": ["0-5%","5-10%","10-20%","20-40%","40-60%","60-80%"], "range": ["#000000","#ff0000","#009a00","#0000ff","#cc00cc","#666666"]}, "legend": {"orient": "none", "legendX": 56, "legendY": 81, "columns": 2, "columnPadding": 105, "rowPadding": 10, "title": null, "labelFontSize": 17, "symbolSize": 140, "labelOffset": 12, "labelExpr": "datum.label == '0-5%' ? '0-5% × 32' : datum.label == '5-10%' ? '5-10% × 16' : datum.label == '10-20%' ? '10-20% × 8' : datum.label == '20-40%' ? '20-40% × 4' : datum.label == '40-60%' ? '40-60% × 2' : '60-80% × 1'"}},
    "shape": {"field": "c", "type": "nominal", "scale": {"domain": ["0-5%","5-10%","10-20%","20-40%","40-60%","60-80%"], "range": ["circle","square","triangle-up","M0,-1L0.55,0L0,1L-0.55,0Z","cross","M0,-1L0.235,-0.324L0.951,-0.309L0.38,0.124L0.588,0.809L0,0.4L-0.588,0.809L-0.38,0.124L-0.951,-0.309L-0.235,-0.324Z"]}, "legend": {"orient": "none", "legendX": 56, "legendY": 81, "columns": 2, "columnPadding": 105, "rowPadding": 10, "title": null, "labelFontSize": 17, "symbolSize": 140, "labelOffset": 12, "labelExpr": "datum.label == '0-5%' ? '0-5% × 32' : datum.label == '5-10%' ? '5-10% × 16' : datum.label == '10-20%' ? '10-20% × 8' : datum.label == '20-40%' ? '20-40% × 4' : datum.label == '40-60%' ? '40-60% × 2' : '60-80% × 1'"}}
   }},
  {"data": {"name": "fits"}, "transform": [{"filter": "datum.E == '14.6'"}],
   "mark": {"type": "line", "color": "black", "strokeWidth": 1.6, "clip": true, "interpolate": "monotone"},
   "encoding": {
    "x": {"field": "x", "type": "quantitative", "axis": {"orient": "bottom", "values": [0,1,2,3,4,5], "labels": false, "tickSize": -11, "title": null}},
    "y": {"field": "y", "type": "quantitative", "axis": {"orient": "left", "values": [1e-9,1e-8,1e-7,1e-6,1e-5,1e-4,1e-3,1e-2], "labels": false, "tickSize": -14, "title": null}},
    "detail": {"field": "c"},
    "strokeDash": {"datum": "Blast Wave fit", "type": "nominal", "scale": {"domain": ["Blast Wave fit"], "range": [[12, 9]]}, "legend": {"orient": "none", "legendX": 51, "legendY": 198, "title": null, "labelFontSize": 17, "symbolSize": 650, "symbolStrokeWidth": 1.7, "symbolDash": [9, 7], "symbolStrokeColor": "black", "labelOffset": 24}}
   }},
  {"data": {"values": [{"t": "14.6 GeV"}]}, "mark": {"type": "text", "align": "center", "baseline": "middle", "fontSize": 20},
   "encoding": {"x": {"datum": 4.29, "type": "quantitative", "axis": null}, "y": {"datum": 2.9e-3, "type": "quantitative", "axis": null}, "text": {"field": "t"}}},
  {"data": {"values": [{"t": "box"}]}, "mark": {"type": "rect", "fill": "#f0f0f0", "stroke": "black", "strokeWidth": 1.5, "clip": false},
   "encoding": {"x": {"datum": -2.33, "type": "quantitative", "axis": null}, "x2": {"datum": 2.08}, "y": {"datum": 3.33e-2, "type": "quantitative", "axis": null}, "y2": {"datum": 7.26e-3}}},
  {"data": {"values": [{"t": "STAR Au+Au Collisions, Anti-Deuteron"}]}, "mark": {"type": "text", "align": "center", "baseline": "middle", "fontSize": 23, "fontWeight": "bold", "clip": false},
   "encoding": {"x": {"datum": -0.125, "type": "quantitative", "axis": null}, "y": {"datum": 1.6e-2, "type": "quantitative", "axis": null}, "text": {"field": "t"}}}
 ]
},
{
 "width": 526, "height": 350,
 "resolve": {"axis": {"x": "independent", "y": "independent"}},
 "layer": [
  {"data": {"name": "pts"}, "transform": [{"filter": "datum.E == '19.6'"}, {"lookup": "x", "from": {"data": {"name": "bins"}, "key": "x", "fields": ["x1", "x2"]}}, {"calculate": "datum.y*(1-(datum.s||0.1))", "as": "lo"}, {"calculate": "datum.y*(1+(datum.s||0.1))", "as": "hi"}],
   "mark": {"type": "rect", "filled": false, "color": "#8c8c8c", "strokeWidth": 2},
   "encoding": {
    "x": {"field": "x1", "type": "quantitative", "scale": {"domain": [-0.1, 5.06], "nice": false, "zero": false}, "axis": {"orient": "top", "values": [0,1,2,3,4,5], "labels": false, "tickSize": -11, "title": null}},
    "x2": {"field": "x2"},
    "y": {"field": "lo", "type": "quantitative", "scale": {"type": "log", "domain": [7.0e-10, 3.45e-2], "nice": false}, "axis": {"orient": "right", "values": [1e-9,1e-8,1e-7,1e-6,1e-5,1e-4,1e-3,1e-2], "labels": false, "tickSize": -14, "title": null}},
    "y2": {"field": "hi"}
   }},
  {"data": {"name": "pts"}, "transform": [{"filter": "datum.E == '19.6' && datum.e > 0"}, {"calculate": "max(datum.y*(1-datum.e), 1e-11)", "as": "elo"}, {"calculate": "datum.y*(1+datum.e)", "as": "ehi"}],
   "mark": {"type": "rule", "color": "black", "strokeWidth": 1.5, "clip": true},
   "encoding": {
    "x": {"field": "x", "type": "quantitative", "axis": {"orient": "top", "values": [0.2,0.4,0.6,0.8,1.2,1.4,1.6,1.8,2.2,2.4,2.6,2.8,3.2,3.4,3.6,3.8,4.2,4.4,4.6,4.8], "labels": false, "domain": false, "tickSize": -5, "title": null}},
    "y": {"field": "elo", "type": "quantitative", "axis": {"orient": "right", "values": [8e-10,9e-10,2e-9,3e-9,4e-9,5e-9,6e-9,7e-9,8e-9,9e-9,2e-8,3e-8,4e-8,5e-8,6e-8,7e-8,8e-8,9e-8,2e-7,3e-7,4e-7,5e-7,6e-7,7e-7,8e-7,9e-7,2e-6,3e-6,4e-6,5e-6,6e-6,7e-6,8e-6,9e-6,2e-5,3e-5,4e-5,5e-5,6e-5,7e-5,8e-5,9e-5,2e-4,3e-4,4e-4,5e-4,6e-4,7e-4,8e-4,9e-4,2e-3,3e-3,4e-3,5e-3,6e-3,7e-3,8e-3,9e-3,2e-2,3e-2], "labels": false, "domain": false, "tickSize": -7, "title": null}},
    "y2": {"field": "ehi"}}},
  {"data": {"name": "pts"}, "transform": [{"filter": "datum.E == '19.6'"}],
   "mark": {"type": "point", "filled": true, "opacity": 1},
   "encoding": {
    "x": {"field": "x", "type": "quantitative", "axis": {"orient": "bottom", "values": [0.2,0.4,0.6,0.8,1.2,1.4,1.6,1.8,2.2,2.4,2.6,2.8,3.2,3.4,3.6,3.8,4.2,4.4,4.6,4.8], "labels": false, "domain": false, "tickSize": -5, "title": null}},
    "y": {"field": "y", "type": "quantitative", "axis": {"orient": "left", "values": [8e-10,9e-10,2e-9,3e-9,4e-9,5e-9,6e-9,7e-9,8e-9,9e-9,2e-8,3e-8,4e-8,5e-8,6e-8,7e-8,8e-8,9e-8,2e-7,3e-7,4e-7,5e-7,6e-7,7e-7,8e-7,9e-7,2e-6,3e-6,4e-6,5e-6,6e-6,7e-6,8e-6,9e-6,2e-5,3e-5,4e-5,5e-5,6e-5,7e-5,8e-5,9e-5,2e-4,3e-4,4e-4,5e-4,6e-4,7e-4,8e-4,9e-4,2e-3,3e-3,4e-3,5e-3,6e-3,7e-3,8e-3,9e-3,2e-2,3e-2], "labels": false, "domain": false, "tickSize": -7, "title": null}},
    "size": {"field": "c", "type": "ordinal", "scale": {"domain": ["0-5%","5-10%","10-20%","20-40%","40-60%","60-80%"], "range": [125, 120, 170, 400, 170, 300]}, "legend": null},
    "color": {"field": "c", "type": "nominal", "scale": {"domain": ["0-5%","5-10%","10-20%","20-40%","40-60%","60-80%"], "range": ["#000000","#ff0000","#009a00","#0000ff","#cc00cc","#666666"]}, "legend": {"orient": "none", "legendX": 56, "legendY": 81, "columns": 2, "columnPadding": 105, "rowPadding": 10, "title": null, "labelFontSize": 17, "symbolSize": 140, "labelOffset": 12, "labelExpr": "datum.label == '0-5%' ? '0-5% × 32' : datum.label == '5-10%' ? '5-10% × 16' : datum.label == '10-20%' ? '10-20% × 8' : datum.label == '20-40%' ? '20-40% × 4' : datum.label == '40-60%' ? '40-60% × 2' : '60-80% × 1'"}},
    "shape": {"field": "c", "type": "nominal", "scale": {"domain": ["0-5%","5-10%","10-20%","20-40%","40-60%","60-80%"], "range": ["circle","square","triangle-up","M0,-1L0.55,0L0,1L-0.55,0Z","cross","M0,-1L0.235,-0.324L0.951,-0.309L0.38,0.124L0.588,0.809L0,0.4L-0.588,0.809L-0.38,0.124L-0.951,-0.309L-0.235,-0.324Z"]}, "legend": {"orient": "none", "legendX": 56, "legendY": 81, "columns": 2, "columnPadding": 105, "rowPadding": 10, "title": null, "labelFontSize": 17, "symbolSize": 140, "labelOffset": 12, "labelExpr": "datum.label == '0-5%' ? '0-5% × 32' : datum.label == '5-10%' ? '5-10% × 16' : datum.label == '10-20%' ? '10-20% × 8' : datum.label == '20-40%' ? '20-40% × 4' : datum.label == '40-60%' ? '40-60% × 2' : '60-80% × 1'"}}
   }},
  {"data": {"name": "fits"}, "transform": [{"filter": "datum.E == '19.6'"}],
   "mark": {"type": "line", "color": "black", "strokeWidth": 1.6, "clip": true, "interpolate": "monotone"},
   "encoding": {
    "x": {"field": "x", "type": "quantitative", "axis": {"orient": "bottom", "values": [0,1,2,3,4,5], "labelPadding": 23, "labelFontSize": 20, "tickSize": -11, "title": "pₜ (GeV/c)", "titleFontSize": 27, "titleX": 540, "titleY": 48, "titleAlign": "center", "titleBaseline": "middle"}},
    "y": {"field": "y", "type": "quantitative", "axis": {"orient": "left", "values": [1e-9,1e-8,1e-7,1e-6,1e-5,1e-4,1e-3,1e-2], "labelExpr": "abs(log(datum.value)/LN10 + 3) < 0.01 ? '10⁻³' : abs(log(datum.value)/LN10 + 5) < 0.01 ? '10⁻⁵' : abs(log(datum.value)/LN10 + 7) < 0.01 ? '10⁻⁷' : abs(log(datum.value)/LN10 + 9) < 0.01 ? '10⁻⁹' : ''", "labelFontSize": 17, "labelPadding": 23, "tickSize": -14, "title": null}},
    "detail": {"field": "c"},
    "strokeDash": {"datum": "Blast Wave fit", "type": "nominal", "scale": {"domain": ["Blast Wave fit"], "range": [[12, 9]]}, "legend": {"orient": "none", "legendX": 51, "legendY": 198, "title": null, "labelFontSize": 17, "symbolSize": 650, "symbolStrokeWidth": 1.7, "symbolDash": [9, 7], "symbolStrokeColor": "black", "labelOffset": 24}}
   }},
  {"data": {"values": [{"t": "19.6 GeV"}]}, "mark": {"type": "text", "align": "center", "baseline": "middle", "fontSize": 20},
   "encoding": {"x": {"datum": 4.32, "type": "quantitative", "axis": null}, "y": {"datum": 1.6e-3, "type": "quantitative", "axis": null}, "text": {"field": "t"}}}
 ]
},
{
 "width": 523, "height": 350,
 "resolve": {"axis": {"x": "independent", "y": "independent"}},
 "layer": [
  {"data": {"name": "pts"}, "transform": [{"filter": "datum.E == '27'"}, {"lookup": "x", "from": {"data": {"name": "bins"}, "key": "x", "fields": ["x1", "x2"]}}, {"calculate": "datum.y*(1-(datum.s||0.1))", "as": "lo"}, {"calculate": "datum.y*(1+(datum.s||0.1))", "as": "hi"}],
   "mark": {"type": "rect", "filled": false, "color": "#8c8c8c", "strokeWidth": 2},
   "encoding": {
    "x": {"field": "x1", "type": "quantitative", "scale": {"domain": [-0.125, 5.0], "nice": false, "zero": false}, "axis": {"orient": "top", "values": [0,1,2,3,4,5], "labels": false, "tickSize": -11, "title": null}},
    "x2": {"field": "x2"},
    "y": {"field": "lo", "type": "quantitative", "scale": {"type": "log", "domain": [7.0e-10, 3.45e-2], "nice": false}, "axis": {"orient": "right", "values": [1e-9,1e-8,1e-7,1e-6,1e-5,1e-4,1e-3,1e-2], "labels": false, "tickSize": -14, "title": null}},
    "y2": {"field": "hi"}
   }},
  {"data": {"name": "pts"}, "transform": [{"filter": "datum.E == '27' && datum.e > 0"}, {"calculate": "max(datum.y*(1-datum.e), 1e-11)", "as": "elo"}, {"calculate": "datum.y*(1+datum.e)", "as": "ehi"}],
   "mark": {"type": "rule", "color": "black", "strokeWidth": 1.5, "clip": true},
   "encoding": {
    "x": {"field": "x", "type": "quantitative", "axis": {"orient": "top", "values": [0.2,0.4,0.6,0.8,1.2,1.4,1.6,1.8,2.2,2.4,2.6,2.8,3.2,3.4,3.6,3.8,4.2,4.4,4.6,4.8], "labels": false, "domain": false, "tickSize": -5, "title": null}},
    "y": {"field": "elo", "type": "quantitative", "axis": {"orient": "right", "values": [8e-10,9e-10,2e-9,3e-9,4e-9,5e-9,6e-9,7e-9,8e-9,9e-9,2e-8,3e-8,4e-8,5e-8,6e-8,7e-8,8e-8,9e-8,2e-7,3e-7,4e-7,5e-7,6e-7,7e-7,8e-7,9e-7,2e-6,3e-6,4e-6,5e-6,6e-6,7e-6,8e-6,9e-6,2e-5,3e-5,4e-5,5e-5,6e-5,7e-5,8e-5,9e-5,2e-4,3e-4,4e-4,5e-4,6e-4,7e-4,8e-4,9e-4,2e-3,3e-3,4e-3,5e-3,6e-3,7e-3,8e-3,9e-3,2e-2,3e-2], "labels": false, "domain": false, "tickSize": -7, "title": null}},
    "y2": {"field": "ehi"}}},
  {"data": {"name": "pts"}, "transform": [{"filter": "datum.E == '27'"}],
   "mark": {"type": "point", "filled": true, "opacity": 1},
   "encoding": {
    "x": {"field": "x", "type": "quantitative", "axis": {"orient": "bottom", "values": [0.2,0.4,0.6,0.8,1.2,1.4,1.6,1.8,2.2,2.4,2.6,2.8,3.2,3.4,3.6,3.8,4.2,4.4,4.6,4.8], "labels": false, "domain": false, "tickSize": -5, "title": null}},
    "y": {"field": "y", "type": "quantitative", "axis": {"orient": "left", "values": [8e-10,9e-10,2e-9,3e-9,4e-9,5e-9,6e-9,7e-9,8e-9,9e-9,2e-8,3e-8,4e-8,5e-8,6e-8,7e-8,8e-8,9e-8,2e-7,3e-7,4e-7,5e-7,6e-7,7e-7,8e-7,9e-7,2e-6,3e-6,4e-6,5e-6,6e-6,7e-6,8e-6,9e-6,2e-5,3e-5,4e-5,5e-5,6e-5,7e-5,8e-5,9e-5,2e-4,3e-4,4e-4,5e-4,6e-4,7e-4,8e-4,9e-4,2e-3,3e-3,4e-3,5e-3,6e-3,7e-3,8e-3,9e-3,2e-2,3e-2], "labels": false, "domain": false, "tickSize": -7, "title": null}},
    "size": {"field": "c", "type": "ordinal", "scale": {"domain": ["0-5%","5-10%","10-20%","20-40%","40-60%","60-80%"], "range": [125, 120, 170, 400, 170, 300]}, "legend": null},
    "color": {"field": "c", "type": "nominal", "scale": {"domain": ["0-5%","5-10%","10-20%","20-40%","40-60%","60-80%"], "range": ["#000000","#ff0000","#009a00","#0000ff","#cc00cc","#666666"]}, "legend": {"orient": "none", "legendX": 56, "legendY": 81, "columns": 2, "columnPadding": 105, "rowPadding": 10, "title": null, "labelFontSize": 17, "symbolSize": 140, "labelOffset": 12, "labelExpr": "datum.label == '0-5%' ? '0-5% × 32' : datum.label == '5-10%' ? '5-10% × 16' : datum.label == '10-20%' ? '10-20% × 8' : datum.label == '20-40%' ? '20-40% × 4' : datum.label == '40-60%' ? '40-60% × 2' : '60-80% × 1'"}},
    "shape": {"field": "c", "type": "nominal", "scale": {"domain": ["0-5%","5-10%","10-20%","20-40%","40-60%","60-80%"], "range": ["circle","square","triangle-up","M0,-1L0.55,0L0,1L-0.55,0Z","cross","M0,-1L0.235,-0.324L0.951,-0.309L0.38,0.124L0.588,0.809L0,0.4L-0.588,0.809L-0.38,0.124L-0.951,-0.309L-0.235,-0.324Z"]}, "legend": {"orient": "none", "legendX": 56, "legendY": 81, "columns": 2, "columnPadding": 105, "rowPadding": 10, "title": null, "labelFontSize": 17, "symbolSize": 140, "labelOffset": 12, "labelExpr": "datum.label == '0-5%' ? '0-5% × 32' : datum.label == '5-10%' ? '5-10% × 16' : datum.label == '10-20%' ? '10-20% × 8' : datum.label == '20-40%' ? '20-40% × 4' : datum.label == '40-60%' ? '40-60% × 2' : '60-80% × 1'"}}
   }},
  {"data": {"name": "fits"}, "transform": [{"filter": "datum.E == '27'"}],
   "mark": {"type": "line", "color": "black", "strokeWidth": 1.6, "clip": true, "interpolate": "monotone"},
   "encoding": {
    "x": {"field": "x", "type": "quantitative", "axis": {"orient": "bottom", "values": [0,1,2,3,4,5], "labelPadding": 23, "labelFontSize": 20, "tickSize": -11, "title": null}},
    "y": {"field": "y", "type": "quantitative", "axis": {"orient": "left", "values": [1e-9,1e-8,1e-7,1e-6,1e-5,1e-4,1e-3,1e-2], "labels": false, "tickSize": -14, "title": null}},
    "detail": {"field": "c"},
    "strokeDash": {"datum": "Blast Wave fit", "type": "nominal", "scale": {"domain": ["Blast Wave fit"], "range": [[12, 9]]}, "legend": {"orient": "none", "legendX": 51, "legendY": 198, "title": null, "labelFontSize": 17, "symbolSize": 650, "symbolStrokeWidth": 1.7, "symbolDash": [9, 7], "symbolStrokeColor": "black", "labelOffset": 24}}
   }},
  {"data": {"values": [{"t": "27 GeV"}]}, "mark": {"type": "text", "align": "center", "baseline": "middle", "fontSize": 20},
   "encoding": {"x": {"datum": 4.38, "type": "quantitative", "axis": null}, "y": {"datum": 2.6e-3, "type": "quantitative", "axis": null}, "text": {"field": "t"}}},
  {"data": {"values": [{"t": "STAR Preliminary"}]}, "mark": {"type": "text", "align": "left", "baseline": "middle", "fontSize": 24, "color": "#ff0000"},
   "encoding": {"x": {"datum": 0.15, "type": "quantitative", "axis": null}, "y": {"datum": 3.5e-9, "type": "quantitative", "axis": null}, "text": {"field": "t"}}}
 ]
}
],
"config": {
 "font": "Liberation Sans",
 "view": {"stroke": "black", "strokeWidth": 1.5},
 "axis": {"domainColor": "black", "domainWidth": 1.5, "tickColor": "black", "tickWidth": 1.2, "grid": false, "labelColor": "black", "labelFont": "Liberation Sans", "labelFontSize": 20, "labelOverlap": false, "labelFlush": false, "titleColor": "black", "titleFont": "Liberation Sans", "titleFontWeight": "normal", "titleFontSize": 25},
 "legend": {"labelFont": "Liberation Sans", "labelColor": "black", "labelFontSize": 17},
 "text": {"font": "Liberation Sans", "color": "black"}
}
}
